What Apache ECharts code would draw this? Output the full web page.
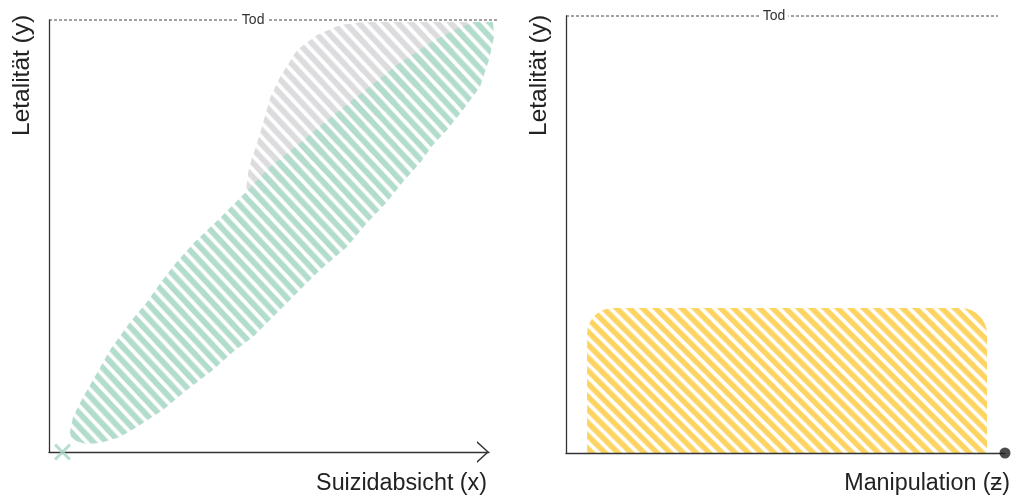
<!DOCTYPE html>
<html><head><meta charset="utf-8">
<script src="https://cdn.jsdelivr.net/npm/echarts@6/dist/echarts.min.js"></script>
<style>html,body{margin:0;padding:0;background:#fff}#c{width:1012px;height:497px}</style>
</head><body><div id="c"></div>
<script>
// ---------- data (both panels use axis units 0..100) ----------
const xAxisTitles = ['Suizidabsicht (x)', 'Manipulation (ƶ)'];
const yAxisTitle = 'Letalität (y)';
const deathLabel = 'Tod';
const deathLevel = 100;
// [x start, x end, label x] of the dashed "Tod" line per panel
const deathLineLeft = [0, 101.8, 46.4];
const deathLineRight = [0, 98.4, 47.4];
// green (intent) region outline, [x, y]
const intentOutline = [
  [4.77, 4.63], [5.45, 8.10], [7.73, 12.73], [10.91, 18.29], [13.86, 23.61], [18.41, 30.09],
  [22.27, 34.72], [25.5, 39.4], [29.0, 44.0], [33.0, 48.5], [38.86, 54.17], [44.09, 59.49],
  [50.23, 65.97], [55.91, 70.60], [63.86, 77.31], [71.36, 83.33], [79.09, 89.58], [86.59, 94.68],
  [93.41, 98.38], [97.05, 99.54], [100.91, 99.54],
  [101.14, 96.06], [100.0, 90.74], [97.95, 84.49], [94.09, 79.17], [90.45, 74.54], [87.27, 71.06],
  [84.32, 66.90], [80.45, 62.50], [76.82, 57.87], [72.27, 53.01], [67.73, 47.45], [61.59, 42.13],
  [55.45, 35.88], [46.36, 26.62], [41.82, 23.15], [37.27, 18.98], [31.36, 14.35], [25.91, 9.72],
  [20.68, 6.25], [16.14, 3.47], [11.59, 2.08], [8.41, 1.85], [6.14, 2.55], [5.0, 3.47]
];
// grey region outline, [x, y]
const greyOutline = [
  [44.77, 60.19], [45.23, 64.58], [46.14, 68.29], [46.8, 69.9], [47.95, 73.8], [49.1, 77.8],
  [50.23, 81.94], [52.5, 86.81], [56.36, 93.06], [60.91, 96.53], [66.14, 98.84], [71.36, 99.54],
  [97.05, 99.54], [88.86, 88.43], [63.86, 69.91], [48.41, 59.49]
];
// yellow manipulation block: [x start, x end, top y]
const manipulationBox = [4.8, 95.9, 33.2];
const originMarker = [3.07, 0];
const axisEndDot = [100, 0];

// ---------- styling helpers ----------
function stripePattern(color, period, width, angleDeg) {
  const n = 10;
  const c = document.createElement('canvas');
  c.width = 8; c.height = Math.round(period * n);
  const ctx = c.getContext('2d');
  ctx.fillStyle = color;
  for (let i = 0; i < n; i++) ctx.fillRect(0, i * period, 8, width);
  return { image: c, repeat: 'repeat', rotation: angleDeg * Math.PI / 180 };
}
const GREEN = '#b2dccb', GREY = '#dcdcdf', YELLOW = '#fdd462', AXIS = '#333';
const greenFill = stripePattern(GREEN, 9.6, 5.8, 47);
const greyFill = stripePattern(GREY, 9.6, 5.8, 47);
const yellowFill = stripePattern(YELLOW, 9.2, 5.5, 45);
const FONT = '"Liberation Sans", Arial, Helvetica, sans-serif';

function polygonSeries(axisIdx, outline, fill) {
  return {
    type: 'custom', xAxisIndex: axisIdx, yAxisIndex: axisIdx, clip: false, silent: true,
    data: outline,
    renderItem: function (params, api) {
      if (params.dataIndex !== 0) return null;
      return { type: 'polygon', shape: { points: outline.map(p => api.coord(p)) }, style: { fill: fill } };
    }
  };
}
function deathSeries(axisIdx, line) {
  return {
    type: 'custom', xAxisIndex: axisIdx, yAxisIndex: axisIdx, clip: false, silent: true, z: 4,
    data: [[line[0], line[1], line[2], deathLevel]],
    renderItem: function (params, api) {
      const a = api.coord([api.value(0), api.value(3)]);
      const b = api.coord([api.value(1), api.value(3)]);
      const t = api.coord([api.value(2), api.value(3)]);
      return { type: 'group', children: [
        { type: 'line', shape: { x1: a[0], y1: a[1], x2: b[0], y2: b[1] },
          style: { stroke: '#444', lineWidth: 1, lineDash: [3, 2] } },
        { type: 'text', x: t[0], y: t[1], z2: 10,
          style: { text: deathLabel, font: '14px ' + FONT, fill: '#333', align: 'center', verticalAlign: 'middle',
                   backgroundColor: '#fff', padding: [0, 3] } }
      ] };
    }
  };
}
const chevron = 'path://M0,12 L11,0 L22,12 L20.1,12 L11,2.07 L1.9,12 Z';
function xAxisCfg(grid, withArrow) {
  return {
    gridIndex: grid, type: 'value', min: 0, max: 100, z: 3,
    axisLine: { show: true, onZero: false, lineStyle: { color: AXIS, width: 1.3 },
      symbol: withArrow ? ['none', chevron] : ['none', 'none'], symbolSize: [22, 12], symbolOffset: [0, -6] },
    axisTick: { show: false }, axisLabel: { show: false }, splitLine: { show: false }
  };
}
function yAxisCfg(grid) {
  return {
    gridIndex: grid, type: 'value', min: 0, max: 100, z: 3,
    axisLine: { show: true, onZero: false, lineStyle: { color: AXIS, width: 1.3 } },
    axisTick: { show: false }, axisLabel: { show: false }, splitLine: { show: false }
  };
}
function label(text, x, y, rot, align, size) {
  return { type: 'text', x: x, y: y, rotation: rot, silent: true,
    style: { text: text, font: size + 'px ' + FONT, fill: '#222', align: align, verticalAlign: 'middle',
             textAlign: align, textVerticalAlign: 'middle' } };
}

const chart = echarts.init(document.getElementById('c'), null, { renderer: 'canvas' });
chart.setOption({
  animation: false,
  backgroundColor: '#fff',
  grid: [
    { left: 49, top: 20, width: 440, height: 432 },
    { left: 566, top: 16, width: 439, height: 437 }
  ],
  xAxis: [xAxisCfg(0, true), xAxisCfg(1, false)],
  yAxis: [yAxisCfg(0), yAxisCfg(1)],
  graphic: [
    label(yAxisTitle, 22, 136, Math.PI / 2, 'left', 24.5),
    label(yAxisTitle, 539, 136, Math.PI / 2, 'left', 24.5),
    label(xAxisTitles[0], 487, 484, 0, 'right', 23.3),
    label(xAxisTitles[1], 1010, 484, 0, 'right', 23.3)
  ],
  series: [
    polygonSeries(0, greyOutline, greyFill),
    polygonSeries(0, intentOutline, greenFill),
    {
      type: 'custom', xAxisIndex: 1, yAxisIndex: 1, clip: false, silent: true,
      data: [manipulationBox],
      renderItem: function (params, api) {
        const p0 = api.coord([api.value(0), api.value(2)]);
        const p1 = api.coord([api.value(1), 0]);
        return { type: 'rect', shape: { x: p0[0], y: p0[1], width: p1[0] - p0[0], height: p1[1] - p0[1], r: [26, 26, 0, 0] },
                 style: { fill: yellowFill } };
      }
    },
    deathSeries(0, deathLineLeft),
    deathSeries(1, deathLineRight),
    {
      type: 'scatter', xAxisIndex: 0, yAxisIndex: 0, z: 5, silent: true, clip: false,
      symbol: 'path://M2.5,0 L10,7.5 L17.5,0 L20,2.5 L12.5,10 L20,17.5 L17.5,20 L10,12.5 L2.5,20 L0,17.5 L7.5,10 L0,2.5 Z',
      symbolSize: 17, itemStyle: { color: '#a6d6c4' }, data: [originMarker]
    },
    {
      type: 'scatter', xAxisIndex: 1, yAxisIndex: 1, z: 5, silent: true, clip: false,
      symbol: 'circle', symbolSize: 11, itemStyle: { color: '#1e1e1e' }, data: [axisEndDot]
    }
  ]
});
</script></body></html>
